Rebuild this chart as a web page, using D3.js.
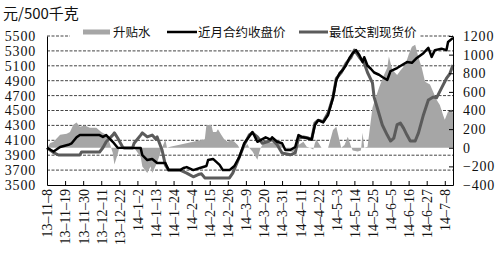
<!DOCTYPE html>
<html>
<head>
<meta charset="utf-8">
<script src="https://cdn.jsdelivr.net/npm/d3@7"></script>
<style>
  body { margin: 0; background: #fff; }
  svg { display: block; }
  .num { font-family: "Liberation Serif", "DejaVu Serif", serif; font-size: 14px; fill: #111; }
  .ynum { letter-spacing: 0.8px; }
  .cjk { font-family: "Noto Sans CJK SC", sans-serif; fill: #111; }
</style>
</head>
<body>
<svg id="chart" width="500" height="255"></svg>
<script>
// dates are yy-m-d
var tickLabels = ['13-11-8','13-11-19','13-11-30','13-12-11','13-12-22','14-1-2','14-1-13','14-1-24',
    '14-2-4','14-2-15','14-2-26','14-3-9','14-3-20','14-3-31','14-4-11','14-4-22','14-5-3','14-5-14',
    '14-5-25','14-6-5','14-6-16','14-6-27','14-7-8']
var leftTicks = [3500, 3700, 3900, 4100, 4300, 4500, 4700, 4900, 5100, 5300, 5500]
var rightTicks = [-400, -200, 0, 200, 400, 600, 800, 1000, 1200]
var seriesNames = ['升贴水', '近月合约收盘价', '最低交割现货价']

// 升贴水 (right axis)
var premium = [['13-11-8',0],['13-11-10',50],['13-11-12',64],['13-11-16',140],['13-11-20',150],['13-11-22',170],
    ['13-11-24',247],['13-11-26',270],['13-11-28',225],['13-12-1',240],['13-12-4',215],['13-12-8',215],
    ['13-12-11',170],['13-12-14',140],['13-12-16',60],['13-12-17',0],['13-12-18',-55],['13-12-19',-180],
    ['13-12-21',-70],['13-12-22',0],['13-12-25',10],['13-12-31',0],['14-1-4',-100],['14-1-5',-200],
    ['14-1-8',-270],['14-1-10',-200],['14-1-11',-270],['14-1-14',-160],['14-1-16',-55],['14-1-17',0],
    ['14-1-19',85],['14-1-20',0],['14-1-22',10],['14-2-12',90],['14-2-13',245],['14-2-16',245],
    ['14-2-17',170],['14-2-19',170],['14-2-20',200],['14-2-22',140],['14-2-24',85],['14-2-26',65],
    ['14-2-28',85],['14-3-2',65],['14-3-4',30],['14-3-5',0],['14-3-8',0],['14-3-10',40],['14-3-11',0],
    ['14-3-13',-40],['14-3-16',-130],['14-3-17',-60],['14-3-18',0],['14-3-21',85],['14-3-24',55],
    ['14-3-28',65],['14-3-31',30],['14-4-2',-20],['14-4-7',-50],['14-4-8',0],['14-4-10',30],['14-4-13',65],
    ['14-4-15',10],['14-4-17',0],['14-4-19',-20],['14-4-20',50],['14-4-21',85],['14-4-24',0],['14-4-28',0],
    ['14-4-29',60],['14-5-1',190],['14-5-3',225],['14-5-6',0],['14-5-8',30],['14-5-10',118],['14-5-12',10],
    ['14-5-13',-30],['14-5-16',-40],['14-5-18',-30],['14-5-19',160],['14-5-20',0],['14-5-22',10],
    ['14-5-23',150],['14-5-25',430],['14-5-27',540],['14-5-29',645],['14-6-1',780],['14-6-3',860],
    ['14-6-4',980],['14-6-6',840],['14-6-9',780],['14-6-11',830],['14-6-14',890],['14-6-16',1000],
    ['14-6-18',1085],['14-6-20',1105],['14-6-22',970],['14-6-24',860],['14-6-26',710],['14-6-29',680],
    ['14-7-1',600],['14-7-3',515],['14-7-5',460],['14-7-7',350],['14-7-8',300],['14-7-10',390],
    ['14-7-12',410],['14-7-13',370]]

// 近月合约收盘价 (left axis)
var closePrice = [['13-11-8',4000],['13-11-12',3950],['13-11-16',4010],['13-11-21',4040],['13-11-23',4060],
    ['13-11-26',4140],['13-11-28',4170],['13-12-10',4170],['13-12-12',4145],['13-12-14',4170],['13-12-18',4080],
    ['13-12-21',4000],['14-1-4',3995],['14-1-5',3900],['14-1-8',3835],['14-1-11',3850],['14-1-14',3795],
    ['14-1-19',3795],['14-1-21',3700],['14-1-28',3700],['14-1-30',3728],['14-2-1',3740],['14-2-5',3700],
    ['14-2-9',3728],['14-2-13',3755],['14-2-14',3835],['14-2-17',3850],['14-2-19',3810],['14-2-21',3770],
    ['14-2-23',3700],['14-2-27',3700],['14-3-2',3755],['14-3-5',3875],['14-3-8',4060],['14-3-13',4210],
    ['14-3-14',4170],['14-3-16',4080],['14-3-21',4140],['14-3-24',4110],['14-3-25',4140],['14-3-28',4080],
    ['14-3-31',4060],['14-4-2',3970],['14-4-5',3970],['14-4-8',4010],['14-4-10',4170],['14-4-12',4145],
    ['14-4-15',4130],['14-4-18',4110],['14-4-20',4305],['14-4-22',4370],['14-4-25',4340],['14-4-28',4440],
    ['14-5-1',4670],['14-5-3',4910],['14-5-5',5000],['14-5-7',5045],['14-5-9',5110],['14-5-11',5205],
    ['14-5-13',5270],['14-5-15',5310],['14-5-17',5245],['14-5-19',5150],['14-5-20',5215],['14-5-22',5100],
    ['14-5-24',5060],['14-5-26',5010],['14-5-29',4980],['14-5-31',4950],['14-6-3',4910],['14-6-5',5030],
    ['14-6-9',5070],['14-6-12',5110],['14-6-15',5150],['14-6-18',5140],['14-6-21',5205],['14-6-25',5270],
    ['14-6-28',5340],['14-6-30',5220],['14-7-2',5310],['14-7-6',5330],['14-7-9',5310],['14-7-10',5420],
    ['14-7-13',5475]]

// 最低交割现货价 (left axis)
var spotPrice = [['13-11-8',4000],['13-11-12',3935],['13-11-15',3903],['13-11-28',3903],['13-11-29',3943],
    ['13-12-10',3943],['13-12-12',4000],['13-12-14',4080],['13-12-18',4170],['13-12-19',4200],['13-12-21',4130],
    ['13-12-24',4010],['13-12-25',3995],['13-12-30',3995],['13-12-31',4060],['14-1-4',4170],['14-1-5',4200],
    ['14-1-8',4145],['14-1-11',4170],['14-1-13',4120],['14-1-14',4145],['14-1-17',3970],['14-1-19',3770],
    ['14-1-21',3700],['14-1-28',3700],['14-2-1',3660],['14-2-5',3610],['14-2-8',3640],['14-2-10',3650],
    ['14-2-12',3595],['14-2-27',3595],['14-3-1',3660],['14-3-4',3820],['14-3-8',4040],['14-3-11',4170],
    ['14-3-13',4200],['14-3-16',4145],['14-3-19',4060],['14-3-22',4080],['14-3-25',4110],['14-3-28',4040],
    ['14-3-31',3930],['14-4-5',3905],['14-4-8',3930],['14-4-10',4130],['14-4-13',4145],['14-4-16',4130],
    ['14-4-18',4110],['14-4-20',4330],['14-4-22',4370],['14-4-25',4350],['14-4-28',4465],['14-5-1',4680],
    ['14-5-3',4930],['14-5-6',5010],['14-5-9',5135],['14-5-12',5215],['14-5-14',5310],['14-5-17',5215],
    ['14-5-20',5135],['14-5-22',5010],['14-5-25',4870],['14-5-26',4680],['14-5-28',4530],['14-5-31',4305],
    ['14-6-3',4170],['14-6-5',4090],['14-6-7',4130],['14-6-9',4310],['14-6-11',4330],['14-6-13',4260],
    ['14-6-15',4170],['14-6-17',4090],['14-6-20',4090],['14-6-22',4200],['14-6-25',4440],['14-6-28',4640],
    ['14-7-1',4680],['14-7-3',4670],['14-7-6',4800],['14-7-9',4930],['14-7-11',4990],['14-7-13',5110]]

var parse = d3.timeParse('%y-%m-%d')
var dash = function(s) { return s.replace(/-/g, '\u2013') }

var svg = d3.select('#chart')
var plotLeft = 47, plotRight = 453, plotTop = 36, plotBottom = 185

var x = d3.scaleTime()
    .domain([parse('13-11-8'), parse('14-7-13')])
    .range([plotLeft, plotRight])
var yL = d3.scaleLinear().domain([3500, 5500]).range([plotBottom, plotTop])
var yR = d3.scaleLinear().domain([-400, 1200]).range([plotBottom, plotTop])

// gridlines behind everything
svg.append('g').selectAll('line')
    .data(leftTicks.slice(1))
    .enter().append('line')
    .attr('x1', plotLeft).attr('x2', plotRight)
    .attr('y1', function(d) { return yL(d) }).attr('y2', function(d) { return yL(d) })
    .attr('stroke', '#444').attr('stroke-width', 1).attr('stroke-dasharray', '3,1.5')

// premium area against zero on the right axis
var area = d3.area()
    .x(function(d) { return x(parse(d[0])) })
    .y0(yR(0))
    .y1(function(d) { return yR(d[1]) })
svg.append('path').datum(premium)
    .attr('d', area)
    .attr('fill', '#a6a6a6')

var lineL = d3.line()
    .x(function(d) { return x(parse(d[0])) })
    .y(function(d) { return yL(d[1]) })

svg.append('path').datum(spotPrice)
    .attr('d', lineL)
    .attr('fill', 'none').attr('stroke', '#5b5b5b').attr('stroke-width', 3).attr('stroke-linejoin', 'round')
svg.append('path').datum(closePrice)
    .attr('d', lineL)
    .attr('fill', 'none').attr('stroke', '#000').attr('stroke-width', 2.5).attr('stroke-linejoin', 'round')

// axes
var xAxis = d3.axisBottom(x)
    .tickValues(tickLabels.map(parse))
    .tickSizeInner(-4).tickSizeOuter(0)
    .tickFormat(function(d, i) { return dash(tickLabels[i]) })
var gx = svg.append('g').attr('transform', 'translate(0,' + plotBottom + ')').call(xAxis)
gx.select('.domain').attr('stroke', '#000')
gx.selectAll('.tick line').attr('stroke', '#000')
gx.selectAll('.tick text')
    .attr('class', 'num')
    .attr('transform', 'rotate(-90)')
    .attr('text-anchor', 'end')
    .attr('x', -4).attr('y', 0).attr('dy', '0.35em')

var gl = svg.append('g').attr('transform', 'translate(' + plotLeft + ',0)')
    .call(d3.axisLeft(yL).tickValues(leftTicks).tickSize(0).tickPadding(11).tickFormat(d3.format('d')))
gl.select('.domain').attr('stroke', '#000')
gl.selectAll('.tick text').attr('class', 'num ynum')

var gr = svg.append('g').attr('transform', 'translate(' + plotRight + ',0)')
    .call(d3.axisRight(yR).tickValues(rightTicks).tickSizeInner(-4).tickSizeOuter(0).tickPadding(10)
        .tickFormat(function(d) { return d < 0 ? '\u2212' + Math.abs(d) : d }))
gr.select('.domain').attr('stroke', '#000')
gr.selectAll('.tick line').attr('stroke', '#000')
gr.selectAll('.tick text').attr('class', 'num ynum')

// unit title
svg.append('text').attr('class', 'cjk')
    .attr('x', 3).attr('y', 19).attr('font-size', 15)
    .text('元/500千克')

// legend, white box hides the top gridline
var legend = svg.append('g')
legend.append('rect').attr('x', 70).attr('y', 25).attr('width', 350).attr('height', 15).attr('fill', '#fff')
legend.append('rect').attr('x', 83).attr('y', 29.5).attr('width', 27).attr('height', 5).attr('fill', '#a6a6a6')
legend.append('line').attr('x1', 167).attr('x2', 197).attr('y1', 32).attr('y2', 32)
    .attr('stroke', '#000').attr('stroke-width', 2.5)
legend.append('line').attr('x1', 299).attr('x2', 328).attr('y1', 32).attr('y2', 32)
    .attr('stroke', '#5b5b5b').attr('stroke-width', 3)
var legendX = [113, 198, 329]
legend.selectAll('text.cjk')
    .data(seriesNames)
    .enter().append('text')
    .attr('class', 'cjk')
    .attr('x', function(d, i) { return legendX[i] })
    .attr('y', 36.5)
    .attr('font-size', 12.5)
    .text(function(d) { return d })
</script>
</body>
</html>
